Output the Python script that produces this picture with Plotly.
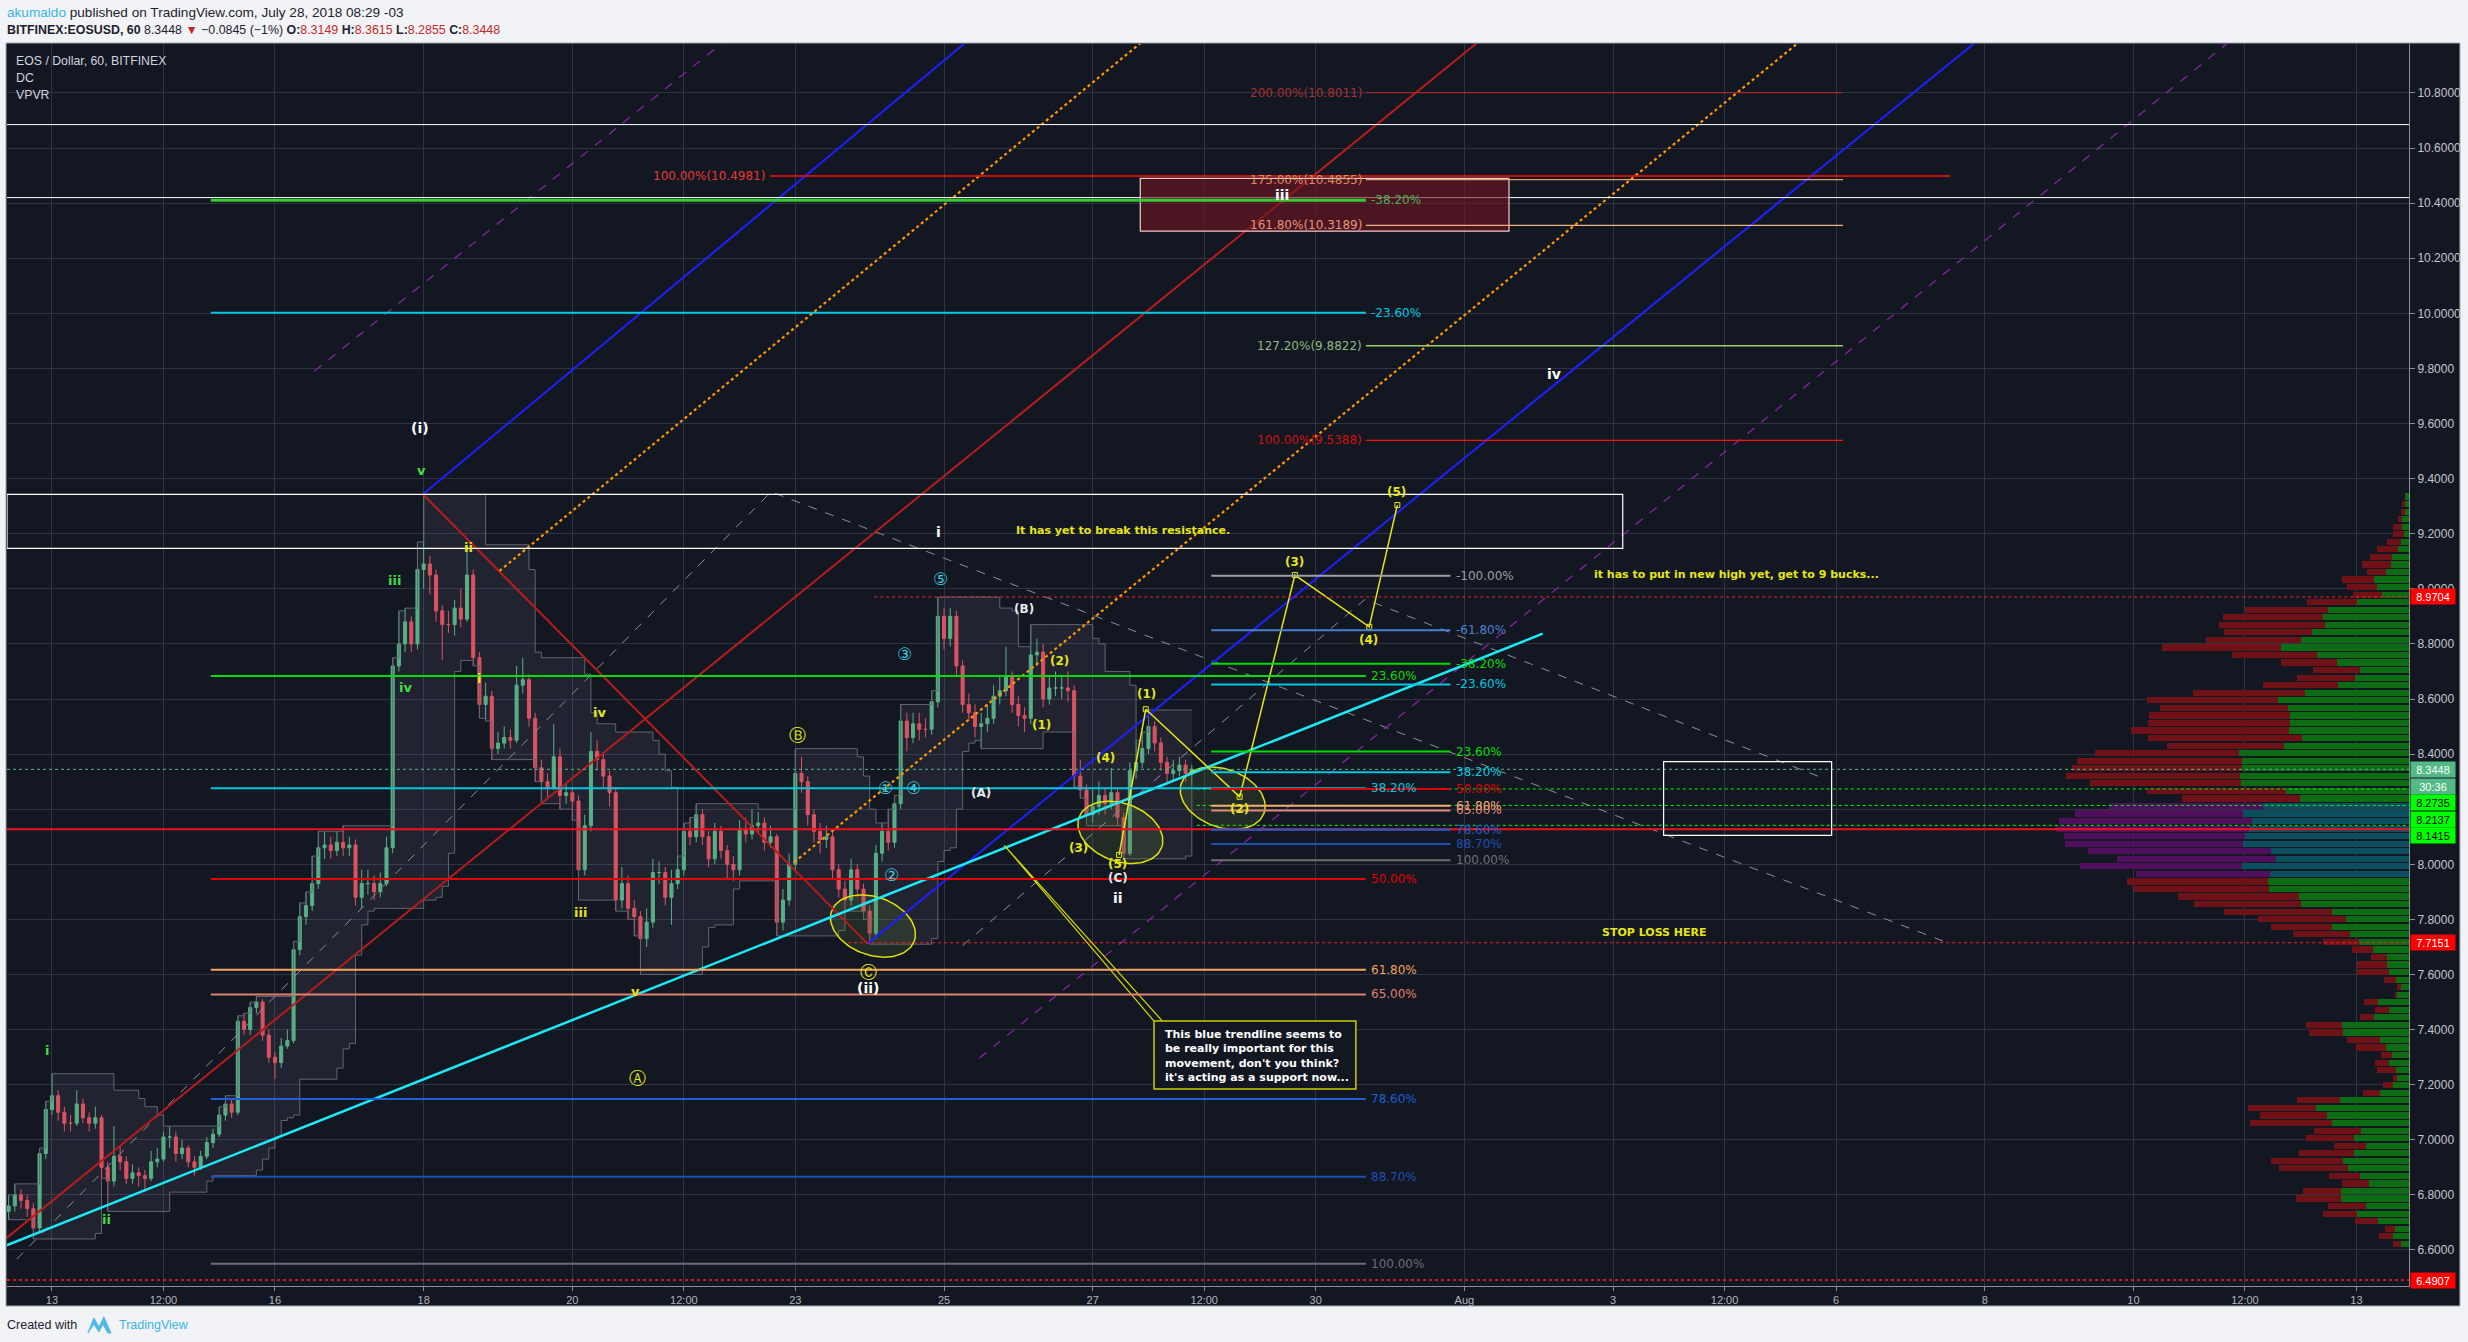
import numpy as np
import pandas as pd
import plotly.graph_objects as go

# ============================ DATA ============================
BASE = pd.Timestamp("2018-07-01")          # day numbers below are "July days" (32 = Aug 1)
X_RANGE_DAYS = [12.395, 44.707]
Y_RANGE = [6.4693, 10.9775]

x_tick_days = [13, 14.5, 16, 18, 20, 21.5, 23, 25, 27, 28.5, 30, 32, 34, 35.5, 37, 39, 41, 42.5, 44]
x_tick_text = ["13", "12:00", "16", "18", "20", "12:00", "23", "25", "27", "12:00",
               "30", "Aug", "3", "12:00", "6", "8", "10", "12:00", "13"]
y_tick_vals = [6.6, 6.8, 7.0, 7.2, 7.4, 7.6, 7.8, 8.0, 8.2, 8.4, 8.6, 8.8,
               9.0, 9.2, 9.4, 9.6, 9.8, 10.0, 10.2, 10.4, 10.6, 10.8]
y_tick_hidden = [8.2]   # covered by the VPVR price badges

candle_start = "2018-07-12 10:00"
candle_freq = "2h"
first_open = 6.74
closes = [6.76,6.80,6.78,6.75,6.68,6.95,7.11,7.16,7.10,7.06,
          7.06,7.13,7.08,7.06,7.08,6.90,6.85,6.94,6.92,6.86,
          6.88,6.87,6.86,6.92,6.93,7.01,7.01,6.95,6.97,6.92,
          6.90,6.94,6.99,7.02,7.09,7.13,7.10,7.43,7.40,7.48,
          7.50,7.38,7.30,7.28,7.34,7.36,7.69,7.81,7.85,7.93,
          8.06,8.07,8.05,8.08,8.06,8.07,7.88,7.93,7.93,7.90,
          7.93,8.06,8.72,8.80,8.88,8.80,9.07,9.09,9.05,8.92,
          8.87,8.87,8.93,8.89,9.05,8.75,8.58,8.61,8.42,8.44,
          8.46,8.45,8.65,8.67,8.53,8.35,8.30,8.28,8.39,8.25,
          8.26,8.23,7.98,8.14,8.41,8.38,8.32,8.26,7.87,7.93,
          7.84,7.81,7.73,7.79,7.97,7.97,7.88,7.93,7.98,8.12,
          8.10,8.18,8.10,8.02,8.12,8.05,8.00,7.98,8.13,8.11,
          8.14,8.15,8.08,8.10,7.79,7.87,8.00,8.33,8.30,8.18,
          8.12,8.09,8.10,7.98,7.91,7.87,7.98,7.91,7.83,7.75,
          8.04,8.12,8.08,8.22,8.52,8.46,8.51,8.49,8.49,8.59,
          8.90,8.82,8.90,8.72,8.58,8.55,8.50,8.51,8.53,8.61,
          8.63,8.68,8.58,8.54,8.53,8.76,8.77,8.60,8.64,8.64,
          8.64,8.63,8.32,8.27,8.18,8.21,8.25,8.22,8.26,8.17,
          8.04,8.34,8.37,8.42,8.50,8.44,8.37,8.33,8.34,8.36,
          8.33,8.3448]
highs = [6.80,6.84,6.82,6.80,6.77,6.97,7.14,7.24,7.18,7.12,
         7.09,7.18,7.15,7.10,7.12,7.09,6.92,7.05,6.98,6.94,
         6.91,6.90,6.89,6.96,6.97,7.03,7.05,7.03,7.00,6.98,
         6.94,6.96,7.01,7.04,7.12,7.16,7.15,7.45,7.46,7.50,
         7.52,7.51,7.40,7.32,7.37,7.40,7.72,7.86,7.90,8.03,
         8.12,8.12,8.10,8.12,8.14,8.10,8.09,7.98,7.98,7.96,
         7.97,8.10,8.75,8.92,8.93,8.90,9.17,9.343,9.12,9.07,
         8.94,8.92,8.96,9.00,9.16,9.07,8.77,8.66,8.63,8.48,
         8.50,8.49,8.72,8.75,8.69,8.55,8.38,8.33,8.51,8.42,
         8.29,8.28,8.25,8.18,8.48,8.45,8.40,8.34,8.28,7.99,
         7.96,7.87,7.83,7.84,8.02,8.01,7.99,7.98,8.03,8.15,
         8.17,8.22,8.20,8.12,8.15,8.14,8.07,8.03,8.16,8.17,
         8.20,8.19,8.17,8.14,8.11,7.91,8.04,8.42,8.39,8.32,
         8.20,8.15,8.14,8.12,8.00,7.94,8.02,8.00,7.93,7.85,
         8.07,8.15,8.20,8.25,8.58,8.55,8.55,8.55,8.53,8.63,
         8.97,8.93,8.93,8.92,8.74,8.62,8.58,8.55,8.58,8.65,
         8.68,8.79,8.70,8.61,8.57,8.87,8.82,8.80,8.68,8.70,
         8.68,8.70,8.65,8.38,8.29,8.27,8.30,8.28,8.35,8.28,
         8.19,8.37,8.45,8.48,8.56,8.52,8.46,8.39,8.38,8.39,
         8.38,8.3615]
lows = [6.71,6.74,6.75,6.72,6.64,6.66,6.93,7.09,7.07,7.03,
        7.03,7.05,7.06,7.03,7.04,6.86,6.74,6.83,6.89,6.84,
        6.84,6.83,6.81,6.85,6.90,6.92,6.97,6.92,6.93,6.90,
        6.87,6.89,6.93,6.97,7.01,7.07,7.08,7.09,7.38,7.38,
        7.46,7.36,7.28,7.22,7.26,7.33,7.35,7.67,7.78,7.83,
        7.91,8.02,8.02,8.03,8.03,8.03,7.85,7.84,7.89,7.87,
        7.88,7.92,8.04,8.70,8.77,8.77,8.78,9.00,8.98,8.88,
        8.74,8.84,8.83,8.86,8.88,8.72,8.53,8.52,8.38,8.40,
        8.42,8.42,8.44,8.62,8.50,8.30,8.22,8.24,8.27,8.20,
        8.22,8.16,7.87,7.96,8.12,8.34,8.28,8.21,7.83,7.84,
        7.80,7.74,7.60,7.70,7.77,7.93,7.85,7.78,7.91,7.96,
        8.07,8.08,8.07,7.99,8.00,8.02,7.95,7.94,7.96,8.08,
        8.09,8.11,8.05,8.06,7.74,7.76,7.85,7.98,8.26,8.14,
        8.08,8.04,8.06,7.95,7.88,7.83,7.85,7.88,7.80,7.71,
        7.73,8.01,8.05,8.06,8.20,8.41,8.44,8.45,8.46,8.47,
        8.57,8.78,8.79,8.68,8.55,8.52,8.46,8.42,8.48,8.51,
        8.58,8.61,8.55,8.50,8.48,8.51,8.72,8.57,8.58,8.61,
        8.60,8.59,8.28,8.24,8.14,8.15,8.18,8.18,8.20,8.14,
        8.02,8.03,8.31,8.35,8.40,8.41,8.34,8.29,8.30,8.32,
        8.30,8.2855]
dc_length = 10   # 20 hourly bars = 10 two-hour bars

# Volume profile (rows listed top -> bottom), arbitrary volume units
vp_top_price = 9.335
vp_row_height = 0.0274
vp_up = [12,12,12,22,22,16,24,34,52,55,
         70,105,96,81,155,244,257,252,292,325,
         383,275,217,146,162,214,313,394,362,358,
         356,360,321,376,511,501,501,507,503,369,
         327,437,499,471,479,492,498,414,399,501,
         417,423,420,330,325,232,189,231,177,151,
         109,66,66,61,40,24,37,93,60,104,
         200,198,87,69,52,60,40,36,48,87,
         207,279,246,231,143,165,128,165,199,182,
         148,120,205,204,129,155,93,42,47,24]
vp_down = [0,10,12,11,26,32,42,63,66,87,
           56,96,91,88,151,249,300,318,263,285,
           360,256,166,141,173,223,335,393,385,424,
           429,474,462,351,432,495,512,523,454,417,
           354,465,503,579,580,545,534,549,477,486,
           402,425,406,363,322,324,264,182,170,108,
           62,49,90,96,35,12,4,42,42,44,
           110,103,98,89,33,42,57,12,30,50,
           130,204,201,247,142,143,98,166,214,207,
           91,81,112,134,114,104,69,30,43,23]
vp_value_area = [7.95, 8.225]

# Fibonacci retracement (left) and (middle)
fibL_high, fibL_low = 9.343, 6.55
fibL_ratios = [-0.382, -0.236, 0.236, 0.382, 0.5, 0.618, 0.65, 0.786, 0.887, 1.0]
fibL_days = [15.137, 30.675]
fibM_high, fibM_low = 8.531, 8.015
fibM_ratios = [-1.0, -0.618, -0.382, -0.236, 0.236, 0.382, 0.5, 0.618, 0.65, 0.786, 0.887, 1.0]
fibM_days = [28.594, 31.812]
# Trend based extension
ext_pcts = [100.0, 127.2, 161.8, 175.0, 200.0]
ext_prices = [9.5388, 9.8822, 10.3189, 10.4855, 10.8011]
ext_days = [30.675, 37.093]
big_ext_pct, big_ext_price = 100.0, 10.4981
big_ext_days = [22.664, 38.538]

# horizontal levels
full_width_prices = [10.685, 10.42, 8.127, 8.3448, 6.4907]
high_line_price, high_line_day = 8.9704, 24.06
low_line_price, low_line_day = 7.7151, 23.71
vpvr_levels = [8.2735, 8.2137, 8.1415]
vpvr_levels_day = 28.4

# rectangles (days, prices)
resist_box_days, resist_box_prices = [12.395, 34.13], [9.147, 9.343]
target_box_days, target_box_prices = [27.64, 32.60], [10.298, 10.49]
right_box_days, right_box_prices = [34.68, 36.94], [8.105, 8.373]
callout_box_days, callout_box_prices = [27.825, 30.54], [7.184, 7.431]

# trend lines (days, prices)
red_channel_days, red_channel_prices = [12.391, 32.3], [6.644, 11.01]
orange1_days, orange1_prices = [19.02, 28.0], [9.065, 11.06]
orange2_days, orange2_prices = [22.985, 36.8], [8.008, 11.05]
blue_upper_days, blue_upper_prices = [17.99, 25.5], [9.343, 11.03]
blue_lower_days, blue_lower_prices = [23.972, 38.95], [7.712, 11.0]
purple_upper_days, purple_upper_prices = [16.53, 22.15], [9.79, 11.01]
purple_lower_days, purple_lower_prices = [25.473, 42.4], [7.296, 11.01]
cyan_trend_days, cyan_trend_prices = [12.39, 33.054], [6.617, 8.837]
red_down_days, red_down_prices = [17.99, 23.972], [9.343, 7.712]
gray1_days, gray1_prices = [12.526, 22.673, 38.53], [6.567, 9.352, 7.712]
gray2_days, gray2_prices = [25.25, 30.664, 36.84], [7.705, 8.962, 8.311]
zigzag_days = [27.355, 27.714, 28.977, 29.72, 30.72, 31.098]
zigzag_prices = [8.034, 8.563, 8.245, 9.05, 8.862, 9.304]
pointer_days, pointer_prices = [27.825, 25.81, 27.937], [7.431, 8.069, 7.431]
ellipse_centers_days = [24.044, 27.372, 28.749]
ellipse_centers_prices = [7.776, 8.116, 8.240]

# text
notes_text = ["It has yet to break this resistance.",
              "it has to put in new high yet, get to 9 bucks...",
              "STOP LOSS HERE"]
notes_days = [25.944, 33.71, 33.82]
notes_prices = [9.213, 9.053, 7.751]
callout_text = ("This blue trendline seems to<br>be really important for this<br>"
                "movement, don't you think?<br>it's acting as a support now...")

wave_texts = ["(i)", "v", "iii", "iv", "i", "ii",
              "ii", "i", "iv", "iii", "v",
              "Ⓐ", "Ⓑ", "Ⓒ", "(ii)",
              "①", "②", "③", "④", "⑤",
              "i", "(B)", "(A)",
              "(1)", "(2)", "(3)", "(4)", "(5)", "(C)", "ii",
              "(1)", "(2)", "(3)", "(4)", "(5)",
              "iii", "iv"]
wave_days = [17.95, 17.97, 17.61, 17.76, 12.936, 13.74,
             18.605, 18.75, 20.36, 20.11, 20.85,
             20.87, 23.03, 23.98, 23.98,
             24.21, 24.30, 24.47, 24.59, 24.95,
             24.93, 26.07, 25.50,
             26.31, 26.56, 26.81, 27.17, 27.34, 27.34, 27.34,
             27.72, 28.97, 29.71, 30.71, 31.09,
             29.54, 33.20]
wave_prices = [9.584, 9.43, 9.03, 8.642, 7.323, 6.711,
               9.15, 8.676, 8.55, 7.825, 7.539,
               7.225, 8.47, 7.608, 7.551,
               8.276, 7.962, 8.762, 8.276, 9.036,
               9.207, 8.927, 8.259,
               8.505, 8.739, 8.059, 8.385, 8.002, 7.951, 7.876,
               8.619, 8.202, 9.098, 8.813, 9.35,
               10.429, 9.778]
wave_degree = ["primW", "minG", "minG", "minG", "minG", "minG",
               "subY", "subY", "subY", "subY", "subY",
               "circY", "circY", "circY", "primW",
               "circC", "circC", "circC", "circC", "circC",
               "primW", "parW", "parW",
               "parY", "parY", "parY", "parY", "parY", "parW", "primW",
               "parY", "parY", "parY", "parY", "parY",
               "primW", "primW"]

axis_badges_text = ["8.9704", "8.3448", "30:36", "8.2735", "8.2137", "8.1415", "7.7151", "6.4907"]
axis_badges_price = [8.9704, 8.3448, 8.3448, 8.2735, 8.2137, 8.1415, 7.7151, 6.4907]

# ============================ STYLE / LAYOUT ============================
W, H = 2468, 1342
ML, MR, MT, MB = 7, 57, 44, 56
PW, PH = W - ML - MR, H - MT - MB
BG = "#131722"
GRID = "#2f3445"
UP, DOWN = "#53b987", "#eb4d5c"
YEL = "#e6e617"


def T(d):
    return (BASE + pd.Timedelta(days=float(d) - 1)).strftime("%Y-%m-%d %H:%M:%S")


def TL(ds):
    return [T(d) for d in ds]


fig = go.Figure()

# --- candles + donchian ---
ctimes = pd.date_range(candle_start, periods=len(closes), freq=candle_freq)
opens = [first_open] + closes[:-1]
dc_up = pd.Series(highs).rolling(dc_length, min_periods=1).max()
dc_lo = pd.Series(lows).rolling(dc_length, min_periods=1).min()

fig.add_trace(go.Scatter(x=ctimes, y=dc_lo, mode="lines", line=dict(color="#62656f", width=1, shape="hv"),
                         hoverinfo="skip", showlegend=False))
fig.add_trace(go.Scatter(x=ctimes, y=dc_up, mode="lines", line=dict(color="#62656f", width=1, shape="hv"),
                         fill="tonexty", fillcolor="rgba(120,123,134,0.14)", hoverinfo="skip", showlegend=False))
fig.add_trace(go.Candlestick(x=ctimes, open=opens, high=highs, low=lows, close=closes,
                             increasing=dict(line=dict(color=UP, width=1), fillcolor=UP),
                             decreasing=dict(line=dict(color=DOWN, width=1), fillcolor=DOWN),
                             whiskerwidth=0, hoverinfo="skip", showlegend=False))

# --- VPVR ---
vp_prices = [vp_top_price - k * vp_row_height for k in range(len(vp_up))]
in_va = [vp_value_area[0] <= p <= vp_value_area[1] for p in vp_prices]
fig.add_trace(go.Bar(y=vp_prices, x=vp_up, orientation="h", xaxis="x2", yaxis="y",
                     width=vp_row_height * 0.82,
                     marker=dict(color=["#0b4f5e" if v else "#0c6b13" for v in in_va], line=dict(width=0)),
                     hoverinfo="skip", showlegend=False))
fig.add_trace(go.Bar(y=vp_prices, x=vp_down, orientation="h", xaxis="x2", yaxis="y",
                     width=vp_row_height * 0.82,
                     marker=dict(color=["#4f0f5c" if v else "#6f1218" for v in in_va], line=dict(width=0)),
                     hoverinfo="skip", showlegend=False))


def line_trace(days, prices, color, width, dash="solid", mode="lines", marker=None):
    kw = dict(x=TL(days), y=prices, mode=mode, line=dict(color=color, width=width, dash=dash),
              hoverinfo="skip", showlegend=False)
    if marker:
        kw["marker"] = marker
    fig.add_trace(go.Scatter(**kw))


# --- ellipses ---
ppd = PW / (X_RANGE_DAYS[1] - X_RANGE_DAYS[0])
ppp = PH / (Y_RANGE[1] - Y_RANGE[0])
ta = np.linspace(0, 2 * np.pi, 90)
A_PX, B_PX, TILT = 44, 29, np.radians(20)
for cd, cp in zip(ellipse_centers_days, ellipse_centers_prices):
    ex = A_PX * np.cos(ta) * np.cos(TILT) - B_PX * np.sin(ta) * np.sin(TILT)
    ey = A_PX * np.cos(ta) * np.sin(TILT) + B_PX * np.sin(ta) * np.cos(TILT)
    fig.add_trace(go.Scatter(x=TL(cd + ex / ppd), y=cp - ey / ppp, mode="lines", fill="toself",
                             fillcolor="rgba(95,120,60,0.22)", line=dict(color="#e0e010", width=1.5),
                             hoverinfo="skip", showlegend=False))

# --- trend lines ---
line_trace(gray1_days, gray1_prices, "#8c8f99", 1, "dash")
line_trace(gray2_days, gray2_prices, "#8c8f99", 1, "dash")
line_trace(purple_upper_days, purple_upper_prices, "#8e24aa", 1.2, "dash")
line_trace(purple_lower_days, purple_lower_prices, "#8e24aa", 1.2, "dash")
line_trace(red_channel_days, red_channel_prices, "#b71c1c", 2)
line_trace(red_down_days, red_down_prices, "#b71c1c", 2)
line_trace(orange1_days, orange1_prices, "#ff9800", 2.2, "dot")
line_trace(orange2_days, orange2_prices, "#ff9800", 2.2, "dot")
line_trace(blue_upper_days, blue_upper_prices, "#1f1fff", 2)
line_trace(blue_lower_days, blue_lower_prices, "#1f1fff", 2)
line_trace(cyan_trend_days, cyan_trend_prices, "#1de9f6", 2.5)
line_trace(zigzag_days, zigzag_prices, YEL, 1.5, mode="lines+markers",
           marker=dict(symbol="square-open", size=5, color=YEL))
line_trace(pointer_days, pointer_prices, "#d8d800", 1.2)

shapes = []
annotations = []

# dark pane
shapes.append(dict(type="rect", xref="paper", yref="paper", layer="below",
                   x0=(6 - ML) / PW, x1=(2462 - ML) / PW, y0=(H - MB - 1306) / PH, y1=(H - MB - 43) / PH,
                   fillcolor=BG, line=dict(color="#a3a6af", width=1)))


def hline(price, d0, d1, color, width=2, dash="solid", full=False):
    if full:
        shapes.append(dict(type="line", xref="paper", yref="y", x0=0, x1=1, y0=price, y1=price,
                           line=dict(color=color, width=width, dash=dash), layer="above"))
    else:
        shapes.append(dict(type="line", xref="x", yref="y", x0=T(d0), x1=T(d1), y0=price, y1=price,
                           line=dict(color=color, width=width, dash=dash), layer="above"))


def rect(days, prices, line_color, fill="rgba(0,0,0,0)", width=1):
    shapes.append(dict(type="rect", xref="x", yref="y", x0=T(days[0]), x1=T(days[1]),
                       y0=prices[0], y1=prices[1], line=dict(color=line_color, width=width),
                       fillcolor=fill, layer="above"))


def label(text, d, p, color, size=12, xanchor="left", xshift=0, yshift=0, bold=False,
          family="DejaVu Sans"):
    annotations.append(dict(x=T(d), y=p, xref="x", yref="y", text=f"<b>{text}</b>" if bold else text,
                            showarrow=False, xanchor=xanchor, yanchor="middle", xshift=xshift,
                            yshift=yshift, font=dict(color=color, size=size, family=family)))


# full width levels
fw_styles = [("#ffffff", 1, "solid"), ("#ffffff", 1, "solid"), ("#f01020", 2, "solid"),
             ("#53b987", 1, "dot"), ("#ff2020", 1.5, "dot")]
for p, (c, w, ds) in zip(full_width_prices, fw_styles):
    hline(p, 0, 0, c, w, ds, full=True)
hline(high_line_price, high_line_day, X_RANGE_DAYS[1], "#ff2020", 1, "dot")
hline(low_line_price, low_line_day, X_RANGE_DAYS[1], "#ff2020", 1, "dot")
for p in vpvr_levels:
    hline(p, vpvr_levels_day, X_RANGE_DAYS[1], "#00ff00", 1, "dot")

# rectangles
rect(resist_box_days, resist_box_prices, "#ffffff", width=1.2)
rect(target_box_days, target_box_prices, "#f3c9c9", fill="rgba(110,22,34,0.62)", width=1.2)
rect(right_box_days, right_box_prices, "#ffffff", width=1.2)
rect(callout_box_days, callout_box_prices, "#cccc00", fill=BG, width=1.5)

# left fib
fibL_line_colors = ["#33cc33", "#00c8e0", "#00dd00", "#00c8e0", "#e00000", "#f4a460",
                    "#e08070", "#1e5fd6", "#1e4fb4", "#6e6e73"]
fibL_text_colors = ["#4caf50", "#00c8e0", "#00dd00", "#00c8e0", "#e00000", "#f4a460",
                    "#e08070", "#1e5fd6", "#1e4fb4", "#6e6e73"]
for r, lc, tc in zip(fibL_ratios, fibL_line_colors, fibL_text_colors):
    p = fibL_high - r * (fibL_high - fibL_low)
    hline(p, fibL_days[0], fibL_days[1], lc, 3 if r == -0.382 else 2)
    label(f"{r * 100:.2f}%", fibL_days[1], p, tc, 12, xshift=3)

# middle fib
fibM_colors = ["#a0a0a0", "#4a80d0", "#00dd00", "#00c8e0", "#00dd00", "#00c8e0", "#e00000",
               "#f4b070", "#e08878", "#1e5fd6", "#1e4fb4", "#707070"]
for r, c in zip(fibM_ratios, fibM_colors):
    p = fibM_high - r * (fibM_high - fibM_low)
    hline(p, fibM_days[0], fibM_days[1], c, 2)
    label(f"{r * 100:.2f}%", fibM_days[1], p, c, 12, xshift=4)

# extension fib
ext_line_colors = ["#ff1010", "#9ccc65", "#f0b080", "#e0a070", "#a02828"]
ext_text_colors = ["#d01010", "#8fb880", "#e8957a", "#e0895a", "#a83030"]
for pct, p, lc, tc in zip(ext_pcts, ext_prices, ext_line_colors, ext_text_colors):
    hline(p, ext_days[0], ext_days[1], lc, 1.3)
    label(f"{pct:.2f}%({p:.4f})", ext_days[0], p, tc, 12, xanchor="right", xshift=-2)
hline(big_ext_price, big_ext_days[0], big_ext_days[1], "#ff1010", 1.5)
label(f"{big_ext_pct:.2f}%({big_ext_price:.4f})", big_ext_days[0], big_ext_price, "#e53935", 12,
      xanchor="right", xshift=-3)

# notes
for t, d, p in zip(notes_text, notes_days, notes_prices):
    label(t, d, p, YEL, 11, bold=True)
annotations.append(dict(x=T(callout_box_days[0]), y=callout_box_prices[1], xref="x", yref="y",
                        text="<b>" + callout_text + "</b>", showarrow=False, xanchor="left", yanchor="top",
                        xshift=9, yshift=-5, align="left",
                        font=dict(color="#ffffff", size=11, family="DejaVu Sans")))

# wave labels
deg_style = {"primW": ("#ffffff", 14, True), "minG": ("#44dd44", 13, True),
             "subY": ("#e6e617", 13, True), "circY": ("#e6e617", 17, False),
             "circC": ("#3cc8dc", 17, False), "parW": ("#e8e8e8", 12, True),
             "parY": ("#e6e617", 12, True)}
for t, d, p, g in zip(wave_texts, wave_days, wave_prices, wave_degree):
    c, s, b = deg_style[g]
    label(t, d, p, c, s, xanchor="center", bold=b)

# axis badges
badge_style = [("#ff0000", "#ffffff", 0), ("#53b987", "#ffffff", 0), ("#53b987", "#ffffff", -17),
               ("#00ff00", "#000000", -14), ("#00ff00", "#000000", -14), ("#00ff00", "#000000", -10),
               ("#ff0000", "#ffffff", 0), ("#ff0000", "#ffffff", 0)]
for t, p, (bg, fc, ys) in zip(axis_badges_text, axis_badges_price, badge_style):
    annotations.append(dict(x=1, y=p, xref="paper", yref="y", text=t, showarrow=False,
                            xanchor="left", yanchor="middle", xshift=1, yshift=ys,
                            bgcolor=bg, borderpad=0, width=44, height=15, align="center",
                            font=dict(color=fc, size=11, family="Liberation Sans")))


def paper_x(px):
    return (px - ML) / PW


def paper_y(py):
    return (H - MB - py) / PH


# header / footer / legend
RED = "#c62828"
header1 = ("<span style='color:#3bb3e4'>akumaldo</span> published on TradingView.com, "
           "July 28, 2018 08:29 -03")
header2 = (f"<b>BITFINEX:EOSUSD, 60</b> 8.3448 <span style='color:{RED}'>▼</span> −0.0845 (−1%) "
           f"<b>O:</b><span style='color:{RED}'>8.3149</span> <b>H:</b><span style='color:{RED}'>8.3615</span> "
           f"<b>L:</b><span style='color:{RED}'>8.2855</span> <b>C:</b><span style='color:{RED}'>8.3448</span>")
for txt, py, sz in [(header1, 12, 13.6), (header2, 30, 12.4)]:
    annotations.append(dict(x=paper_x(5), y=paper_y(py), xref="paper", yref="paper", text=txt,
                            showarrow=False, xanchor="left", yanchor="middle",
                            font=dict(color="#1e222d", size=sz, family="Liberation Sans")))
for txt, py in [("EOS / Dollar, 60, BITFINEX", 61), ("DC", 78), ("VPVR", 95)]:
    annotations.append(dict(x=paper_x(14), y=paper_y(py), xref="paper", yref="paper", text=txt,
                            showarrow=False, xanchor="left", yanchor="middle",
                            font=dict(color="#d1d4dc", size=12.3, family="Liberation Sans")))
annotations.append(dict(x=paper_x(5), y=paper_y(1325), xref="paper", yref="paper",
                        text="Created with", showarrow=False, xanchor="left", yanchor="middle",
                        font=dict(color="#1e222d", size=12.5, family="Liberation Sans")))
annotations.append(dict(x=paper_x(117), y=paper_y(1325), xref="paper", yref="paper",
                        text="TradingView", showarrow=False, xanchor="left", yanchor="middle",
                        font=dict(color="#3bb3e4", size=12.5, family="Liberation Sans")))
# small logo glyph
lx = [88, 94, 99, 104, 111, 108, 103, 99, 94, 88]
ly = [1333, 1318, 1327, 1317, 1333, 1333, 1324, 1332, 1324, 1333]
path = "M " + " L ".join(f"{paper_x(a)},{paper_y(b)}" for a, b in zip(lx, ly)) + " Z"
shapes.append(dict(type="path", xref="paper", yref="paper", path=path, fillcolor="#4fb8e6",
                   line=dict(color="#4fb8e6", width=1)))

fig.update_layout(
    width=W, height=H, margin=dict(l=ML, r=MR, t=MT, b=MB, pad=0),
    paper_bgcolor="#f1f3f6", plot_bgcolor=BG, barmode="stack", bargap=0,
    font=dict(family="DejaVu Sans", color="#d1d4dc"),
    showlegend=False, shapes=shapes, annotations=annotations, hovermode=False,
    xaxis=dict(type="date", range=[T(X_RANGE_DAYS[0]), T(X_RANGE_DAYS[1])],
               tickvals=TL(x_tick_days), ticktext=x_tick_text, showgrid=True, gridcolor=GRID,
               gridwidth=1, zeroline=False, showline=True, linecolor="#8a8d96", linewidth=1,
               ticks="outside", ticklen=4, tickcolor="#8a8d96",
               tickfont=dict(color="#b2b5be", size=11, family="Liberation Sans Narrow, Liberation Sans"),
               rangeslider=dict(visible=False), fixedrange=True),
    xaxis2=dict(overlaying="x", range=[3 * PW, 0], visible=False, anchor="y", fixedrange=True),
    yaxis=dict(side="right", range=Y_RANGE, tickvals=y_tick_vals,
               ticktext=["" if v in y_tick_hidden else f"{v:.4f}" for v in y_tick_vals],
               showgrid=True, gridcolor=GRID,
               zeroline=False, showline=True, linecolor="#8a8d96", linewidth=1,
               ticks="outside", ticklen=5, tickcolor="#8a8d96",
               tickfont=dict(color="#c3c6ce", size=12, family="Liberation Sans"), fixedrange=True),
)

fig.write_html("out.html", config={"displayModeBar": False},
               post_script="document.body.style.margin='0';document.body.style.background='#f1f3f6';"
                           "document.documentElement.style.overflow='hidden';")
